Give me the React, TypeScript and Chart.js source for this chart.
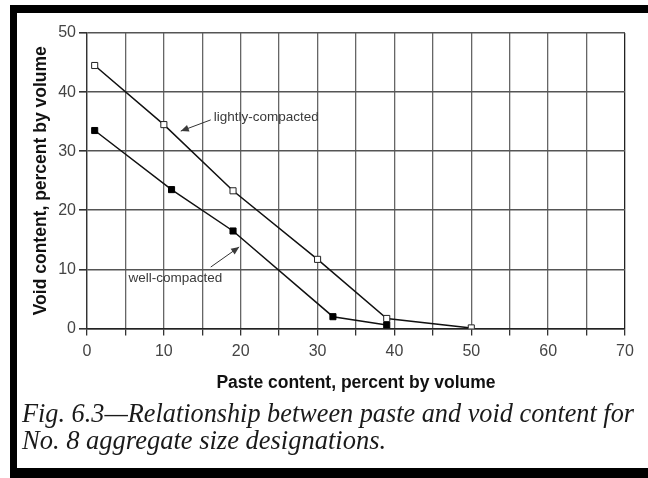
import React, { useEffect, useLayoutEffect, useRef } from "react";
import { Chart, registerables } from "chart.js";

Chart.register(...registerables);

// ---- data ----
const lightlyX = [1, 10, 19, 30, 39, 50];
const lightlyY = [44.5, 34.5, 23.3, 11.7, 1.7, 0.1];
const wellX = [1, 11, 19, 32, 39];
const wellY = [33.5, 23.5, 16.5, 2.0, 0.6];

const xMin = 0;
const xMax = 70;
const xStep = 5;
const xLabelEvery = 10;
const yMin = 0;
const yMax = 50;
const yStep = 10;

const xTitle = "Paste content, percent by volume";
const yTitle = "Void content, percent by volume";
const captionLine1 = "Fig. 6.3\u2014Relationship between paste and void content for";
const captionLine2 = "No. 8 aggregate size designations.";

// annotations (data coordinates)
const noteLabels = ["lightly-compacted", "well-compacted"];
const noteTextX = [16.5, 5.4];
const noteTextY = [35.7, 8.5];
const noteFromX = [16.1, 16.1];
const noteFromY = [35.3, 10.4];
const noteToX = [12.2, 19.8];
const noteToY = [33.4, 13.8];

const annotationPlugin = {
  id: "notes",
  afterDatasetsDraw(chart: any) {
    const { ctx, scales } = chart;
    const xs = scales.x;
    const ys = scales.y;
    ctx.save();
    ctx.font = "13.5px Arial, 'Liberation Sans', sans-serif";
    ctx.fillStyle = "#3a3a3a";
    ctx.strokeStyle = "#333";
    ctx.textBaseline = "middle";
    ctx.textAlign = "left";
    for (let i = 0; i < noteLabels.length; i++) {
      ctx.fillText(noteLabels[i], xs.getPixelForValue(noteTextX[i]), ys.getPixelForValue(noteTextY[i]));
      const x1 = xs.getPixelForValue(noteFromX[i]);
      const y1 = ys.getPixelForValue(noteFromY[i]);
      const x2 = xs.getPixelForValue(noteToX[i]);
      const y2 = ys.getPixelForValue(noteToY[i]);
      ctx.lineWidth = 1;
      ctx.beginPath();
      ctx.moveTo(x1, y1);
      ctx.lineTo(x2, y2);
      ctx.stroke();
      const ang = Math.atan2(y2 - y1, x2 - x1);
      const len = 8;
      const half = 3.5;
      const bx = x2 - len * Math.cos(ang);
      const by = y2 - len * Math.sin(ang);
      ctx.beginPath();
      ctx.moveTo(x2, y2);
      ctx.lineTo(bx + half * Math.sin(ang), by - half * Math.cos(ang));
      ctx.lineTo(bx - half * Math.sin(ang), by + half * Math.cos(ang));
      ctx.closePath();
      ctx.fill();
    }
    ctx.restore();
  },
};

export default function App() {
  const canvasRef = useRef<HTMLCanvasElement | null>(null);
  const line1Ref = useRef<HTMLSpanElement | null>(null);

  useLayoutEffect(() => {
    const el = line1Ref.current;
    if (!el) return;
    const w = el.getBoundingClientRect().width;
    if (w > 0) {
      el.style.transform = `scaleX(${612 / w})`;
    }
  }, []);

  useEffect(() => {
    if (!canvasRef.current) return;
    const tickFont = { family: "Arial, 'Liberation Sans', sans-serif", size: 16 };
    const titleFont = { family: "Arial, 'Liberation Sans', sans-serif", size: 17.5, weight: "bold" as const };
    const chart = new Chart(canvasRef.current, {
      type: "line",
      data: {
        datasets: [
          {
            label: "lightly-compacted",
            data: lightlyX.map((x, i) => ({ x, y: lightlyY[i] })),
            borderColor: "#111",
            borderWidth: 1.5,
            pointStyle: "rect",
            pointRadius: 4.3,
            pointBackgroundColor: "#fff",
            pointBorderColor: "#222",
            pointBorderWidth: 1,
            tension: 0,
          },
          {
            label: "well-compacted",
            data: wellX.map((x, i) => ({ x, y: wellY[i] })),
            borderColor: "#111",
            borderWidth: 1.5,
            pointStyle: "rect",
            pointRadius: 4.3,
            pointBackgroundColor: "#000",
            pointBorderColor: "#000",
            pointBorderWidth: 1,
            tension: 0,
          },
        ],
      },
      options: {
        animation: false,
        responsive: false,
        maintainAspectRatio: false,
        layout: { padding: { left: 31, right: 23, top: 33, bottom: 6.5 } },
        plugins: {
          legend: { display: false },
          tooltip: { enabled: false },
        },
        scales: {
          x: {
            type: "linear",
            min: xMin,
            max: xMax,
            ticks: {
              stepSize: xStep,
              autoSkip: false,
              maxRotation: 0,
              padding: 6,
              color: "#444",
              font: tickFont,
              callback: (v: any) => (Number(v) % xLabelEvery === 0 ? String(v) : ""),
            },
            grid: {
              color: (c: any) => (c.tick && c.tick.value === xMax ? "#222" : "#666"),
              lineWidth: 1.3,
              tickLength: 7,
              tickColor: "#333",
            },
            border: { color: "#222", width: 1.5 },
            title: { display: true, text: xTitle, color: "#111", font: titleFont, padding: 0 },
            afterFit: (s: any) => {
              s.height = 65;
            },
          },
          y: {
            type: "linear",
            min: yMin,
            max: yMax,
            ticks: {
              stepSize: yStep,
              padding: 3,
              color: "#444",
              font: tickFont,
            },
            grid: {
              color: "#555",
              lineWidth: 1.6,
              tickLength: 8,
              tickColor: "#333",
            },
            border: { color: "#333", width: 1.3 },
            title: { display: true, text: yTitle, color: "#111", font: titleFont, padding: 0 },
            afterFit: (s: any) => {
              s.width = 56;
            },
          },
        },
      },
      plugins: [annotationPlugin],
    });
    return () => chart.destroy();
  }, []);

  const capStyle: React.CSSProperties = {
    position: "absolute",
    left: 22,
    fontFamily: "'Liberation Serif', 'Times New Roman', serif",
    fontStyle: "italic",
    fontSize: 26.5,
    lineHeight: "27px",
    color: "#1a1a1a",
    whiteSpace: "nowrap",
  };

  return (
    <div style={{ position: "fixed", left: 0, top: 0, width: 648, height: 478, background: "#fff", overflow: "hidden" }}>
      <canvas ref={canvasRef} width={648} height={400} style={{ position: "absolute", left: 0, top: 0, width: 648, height: 400 }} />
      <div style={{ ...capStyle, top: 400 }}>
        <span ref={line1Ref} style={{ display: "inline-block", transformOrigin: "0 50%" }}>
          {captionLine1}
        </span>
      </div>
      <div style={{ ...capStyle, top: 427 }}>{captionLine2}</div>
      <div
        style={{
          position: "absolute",
          left: 10,
          top: 5,
          width: 638,
          height: 473,
          boxSizing: "border-box",
          borderLeft: "7px solid #000",
          borderTop: "8px solid #000",
          borderBottom: "10px solid #000",
          pointerEvents: "none",
        }}
      />
    </div>
  );
}
